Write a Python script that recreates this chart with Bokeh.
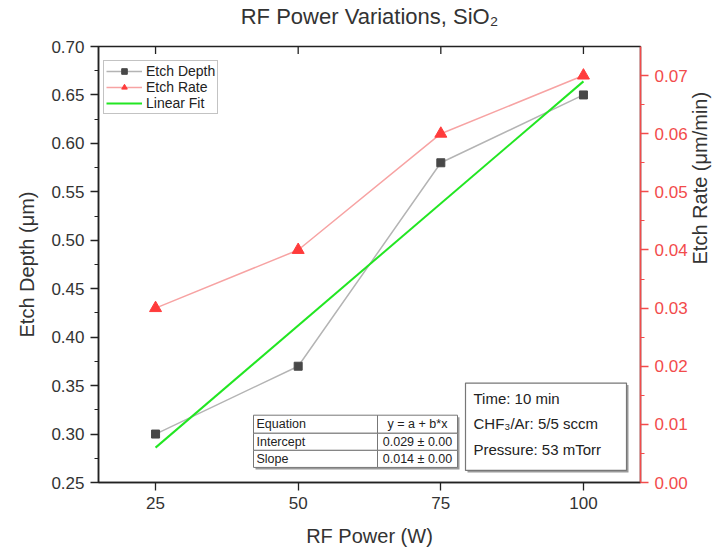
import math
from bokeh.plotting import figure
from bokeh.models import Range1d, LinearAxis, FixedTicker, Legend, LegendItem, PrintfTickFormatter
from bokeh.embed import file_html
from bokeh.resources import INLINE
from bokeh.core.properties import value

# ---------------- data ----------------
power = [25, 50, 75, 100]
etch_depth = [0.30, 0.37, 0.58, 0.65]
etch_rate = [0.03, 0.04, 0.06, 0.07]
fit_power = [25, 100]
fit_depth = [0.286, 0.664]

x_ticks = [25, 50, 75, 100]
depth_ticks = [0.25, 0.30, 0.35, 0.40, 0.45, 0.50, 0.55, 0.60, 0.65, 0.70]
depth_minor = [0.275, 0.325, 0.375, 0.425, 0.475, 0.525, 0.575, 0.625, 0.675]
rate_ticks = [0.00, 0.01, 0.02, 0.03, 0.04, 0.05, 0.06, 0.07]
rate_minor = [0.005, 0.015, 0.025, 0.035, 0.045, 0.055, 0.065]

title_text = "RF Power Variations, SiO\u2082"
x_label = "RF Power (W)"
y_label = "Etch Depth (\u03bcm)"
y2_label = "Etch Rate (\u03bcm/min)"
table_col1 = ["Equation", "Intercept", "Slope"]
table_col2 = ["y = a + b*x", "0.029 \u00b1 0.00", "0.014 \u00b1 0.00"]
conditions = ["Time: 10 min", "CHF\u2083/Ar: 5/5 sccm", "Pressure: 53 mTorr"]

# ---------------- layout ----------------
W, H = 724, 553
FL, FR, FT, FB = 98, 640, 48, 482
XMIN, XMAX = 15, 110
YMIN, YMAX = 0.25, 0.70
RMIN, RMAX = 0.0, 0.075
FONT = "Liberation Sans"


def px_x(px):
    return XMIN + (px - FL) * (XMAX - XMIN) / (FR - FL)


def px_y(py):
    return YMIN + (FB - py) * (YMAX - YMIN) / (FB - FT)


p = figure(width=W, height=H, x_range=Range1d(XMIN, XMAX), y_range=Range1d(YMIN, YMAX),
           output_backend="svg", toolbar_location=None,
           min_border_left=FL, min_border_right=80, min_border_top=40,
           min_border_bottom=H - FB)
p.extra_y_ranges = {"rate": Range1d(RMIN, RMAX)}
p.grid.visible = False
p.outline_line_color = "#222222"
p.outline_line_width = 1.5
p.background_fill_color = "white"
p.border_fill_color = "white"
p.title.visible = False

AX = "#222222"
TICKC = "#333333"
RED = "#f24b4b"

xa = p.xaxis[0]
xa.ticker = FixedTicker(ticks=x_ticks, minor_ticks=[])
xa.axis_label = x_label
ya = p.yaxis[0]
ya.ticker = FixedTicker(ticks=depth_ticks, minor_ticks=depth_minor)
ya.formatter = PrintfTickFormatter(format="%.2f")
ya.axis_label = y_label

# right axis (red)
ra = LinearAxis(y_range_name="rate", ticker=FixedTicker(ticks=rate_ticks, minor_ticks=rate_minor),
                formatter=PrintfTickFormatter(format="%.2f"), axis_label=y2_label)
p.add_layout(ra, "right")

# title drawn as the label of a tickless top axis
ta = LinearAxis(ticker=FixedTicker(ticks=[], minor_ticks=[]), axis_label=title_text)
ta.axis_line_color = None
ta.major_tick_line_color = None
ta.minor_tick_line_color = None
ta.axis_label_standoff = 18
ta.axis_label_text_font = FONT
ta.axis_label_text_font_size = "22px"
ta.axis_label_text_font_style = "normal"
ta.axis_label_text_color = TICKC
p.add_layout(ta, "above")

for ax in (xa, ya, ra):
    ax.axis_line_color = AX
    ax.axis_line_width = 1.5
    ax.major_tick_line_color = AX
    ax.minor_tick_line_color = AX
    ax.major_tick_line_width = 1.3
    ax.minor_tick_line_width = 1.0
    ax.major_tick_out = 8
    ax.major_tick_in = 0
    ax.minor_tick_out = 4
    ax.minor_tick_in = 0
    ax.major_label_text_font = FONT
    ax.major_label_text_font_size = "17px"
    ax.major_label_text_color = TICKC
    ax.major_label_standoff = 6
    ax.axis_label_text_font = FONT
    ax.axis_label_text_font_size = "20px"
    ax.axis_label_text_font_style = "normal"
    ax.axis_label_text_color = TICKC
xa.axis_label_standoff = 13
ya.axis_label_standoff = 10
ra.axis_label_standoff = 9

ra.axis_line_color = RED
ra.major_tick_line_color = RED
ra.minor_tick_line_color = RED
ra.major_label_text_color = RED
if "axis_label_orientation" in ra.properties():
    ra.axis_label_orientation = math.pi / 2
ra.axis_label_text_align = "center"
ra.axis_label_text_baseline = "middle"

# top frame ticks pointing inward (half of each dash is clipped by the frame)
p.scatter(x_ticks, [YMAX] * len(x_ticks), marker="dash", angle=math.pi / 2, size=15,
          line_color=AX, line_width=1.3)

# ---------------- series ----------------
dl = p.line(power, etch_depth, line_color="#b4b4b4", line_width=1.5)
ds = p.scatter(power, etch_depth, marker="square", size=8, fill_color="#484848",
               line_color="#484848")
rl = p.line(power, etch_rate, line_color="#f7a3a3", line_width=1.5, y_range_name="rate")
rs = p.scatter(power, etch_rate, marker="triangle", size=12, fill_color="#ff3b3b",
               line_color="#ff3b3b", y_range_name="rate")
fl = p.line(fit_power, fit_depth, line_color="#22e622", line_width=2)

legend = Legend(items=[LegendItem(label="Etch Depth", renderers=[dl, ds]),
                       LegendItem(label="Etch Rate", renderers=[rl, rs]),
                       LegendItem(label="Linear Fit", renderers=[fl])],
                location=(5, FB - 114))
legend.label_text_font = FONT
legend.label_text_font_size = "14px"
legend.label_text_color = "#222222"
legend.glyph_width = 36
legend.glyph_height = 14
legend.label_height = 14
legend.spacing = 0
legend.padding = 2
legend.margin = 0
legend.label_standoff = 4
legend.border_line_color = "#888888"
legend.border_line_width = 1.2
legend.background_fill_color = "white"
legend.background_fill_alpha = 1
p.add_layout(legend, "center")

# ---------------- parameter table ----------------
tx0, tx1, tx2 = px_x(253), px_x(377), px_x(457)
trows = [415, 433, 450, 467]
p.quad(left=px_x(255), right=px_x(459), top=px_y(417), bottom=px_y(469),
       fill_color="#9a9a9a", line_color=None)
for i in range(3):
    p.quad(left=tx0, right=tx1, top=px_y(trows[i]), bottom=px_y(trows[i + 1]),
           fill_color="white", line_color="#777777", line_width=1)
    p.quad(left=tx1, right=tx2, top=px_y(trows[i]), bottom=px_y(trows[i + 1]),
           fill_color="white", line_color="#777777", line_width=1)
row_mid = [px_y((trows[i] + trows[i + 1]) / 2) for i in range(3)]
p.text(x=[px_x(256)] * 3, y=row_mid, text=table_col1, text_font=value(FONT),
       text_font_size="12.5px", text_baseline="middle", text_align="left", text_color="#222222")
p.text(x=[(tx1 + tx2) / 2] * 3, y=row_mid, text=table_col2, text_font=value(FONT),
       text_font_size="12.5px", text_baseline="middle", text_align="center", text_color="#222222")

# ---------------- conditions box ----------------
p.quad(left=px_x(467), right=px_x(628), top=px_y(385), bottom=px_y(472),
       fill_color="#9a9a9a", line_color=None)
p.quad(left=px_x(465), right=px_x(626), top=px_y(383), bottom=px_y(470),
       fill_color="white", line_color="#777777", line_width=1.2)
p.text(x=[px_x(473)] * 3, y=[px_y(398), px_y(423), px_y(449)], text=conditions,
       text_font=value(FONT), text_font_size="15px", text_baseline="middle",
       text_align="left", text_color="#222222")

open("out.html", "w").write(file_html(p, INLINE))
